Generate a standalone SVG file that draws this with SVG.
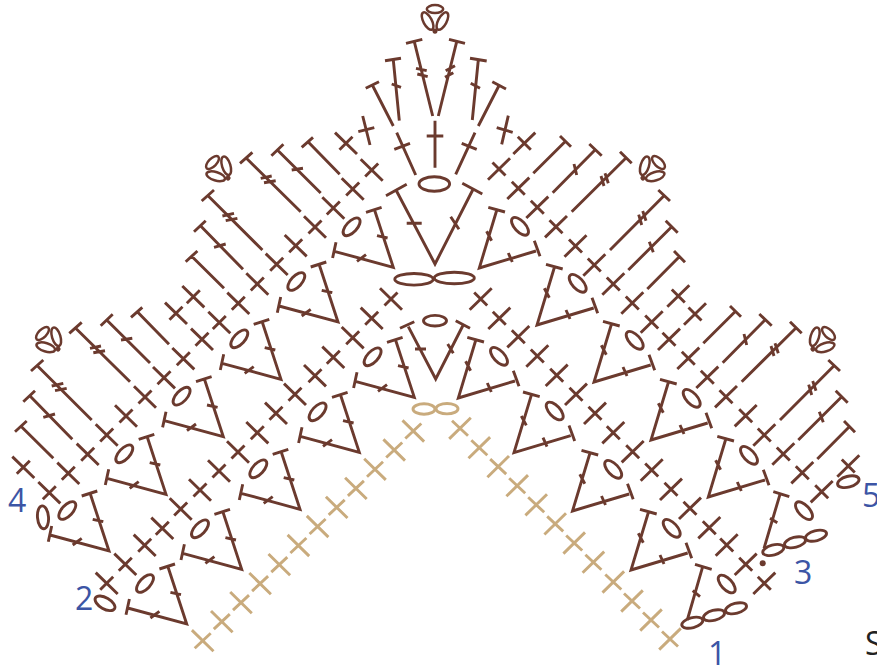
<svg xmlns="http://www.w3.org/2000/svg" width="877" height="666" viewBox="0 0 877 666">
<style>
.b{fill:none;stroke:#6b3a2e;stroke-width:2.9}
.t{fill:none;stroke:#c9ab7d;stroke-width:2.9}
.n{font-family:"Open Sans","Noto Sans",sans-serif;font-size:32px;fill:#3c55a5}
#flowers{stroke-width:2.5}
</style>
<defs>
<path id="xl" d="M-11-10.7L11 10.7M-6.5 6.5L6.5-6.5"/>
<path id="xr" d="M11-10.7L-11 10.7M6.5 6.5L-6.5-6.5"/>
<path id="txl" d="M-10.8-10.6L10.8 10.6M-8 7.5L8-7.5"/>
<path id="txr" d="M10.8-10.6L-10.8 10.6M8 7.5L-8-7.5"/>
<g id="vl"><path d="M-19-58L0 0L-59-16M-27.3-55L-11.7-60M-16.3-31.7L-5.7-29.3M-57.3-25L-60.7-9.3M-36.3-6L-27.3-12.7"/><ellipse cx="-41.7" cy="-40.5" rx="11" ry="5.4" transform="rotate(-47 -41.7 -40.5)"/></g>
<g id="vr"><path d="M17.5-58L0 0L56.7-17M9-60.7L25.7-56M7.3-36.7L12.3-27.3M55-27.3L60.7-11.7M29-15L33-6"/><ellipse cx="40.7" cy="-41.7" rx="11" ry="5.4" transform="rotate(47 40.7 -41.7)"/></g>
<g id="fl"><ellipse cx="0" cy="-8.2" rx="8.2" ry="4"/><ellipse cx="-7.4" cy="3.8" rx="9.6" ry="4.2" transform="rotate(62 -7.4 3.8)"/><ellipse cx="7.4" cy="3.8" rx="9.6" ry="4.2" transform="rotate(-62 7.4 3.8)"/><circle cx="0" cy="13.8" r="1.3"/></g>
<g id="lobeL"><path d="M20.7 426L53.3 458.3M15 431.7L26.7 421M30 396L72.3 439.3M23.3 401.7L35 390.7M43.3 417.3L55 414M37.3 365.7L91.7 420M31 371L43.3 360M51.7 386L63.3 383.3M55 390.7L66.7 388.3M75.7 328.3L130 381.7M69.3 333.3L81.7 322.3M90 348.3L101 346M93.3 352.7L105 350.7M106.7 320L150 363M100.7 325.7L112.7 314.3M121 340L132.3 338.3M137.3 311.7L169 344.3M131 317.3L142.3 307.3"/></g>
<g id="lobeR"><path d="M565 141.7L533.3 173.3M560 136L571 146.7M595 150L552.7 192.7M589.3 144L601.7 155.7M574 164L576.7 175M625.7 158.3L571.7 211.7M620 151.7L631.7 163.3M601 176L604 186M605 173.3L608.3 183.3M664 195.7L610 250M658.3 190L670 201M638.7 214.7L641.7 225M642.7 211L646 220.7M671.7 226.7L628.3 270M665.7 220.7L677.7 232.7M649.3 241.7L653.3 252.3M679.3 256.7L647.3 289M674 251L685 262.3"/></g>
</defs>
<g id="connectors">
<g id="tan-row" class="t">
<use href="#txl" x="202.7" y="640.7"/><use href="#txl" x="221.8" y="621.6"/><use href="#txl" x="241" y="602.6"/><use href="#txl" x="260.1" y="583.6"/><use href="#txl" x="279.3" y="564.6"/><use href="#txl" x="298.4" y="545.5"/><use href="#txl" x="317.6" y="526.5"/><use href="#txl" x="336.7" y="507.4"/><use href="#txl" x="355.9" y="488.4"/><use href="#txl" x="375" y="469.3"/><use href="#txl" x="394.2" y="450"/><use href="#txl" x="413.3" y="431"/>
<use href="#txr" x="460" y="428.3"/><use href="#txr" x="479.3" y="447.7"/><use href="#txr" x="498.2" y="466.6"/><use href="#txr" x="517.2" y="485.7"/><use href="#txr" x="536.2" y="504.8"/><use href="#txr" x="555.2" y="523.9"/><use href="#txr" x="574.2" y="543"/><use href="#txr" x="593.4" y="562.2"/><use href="#txr" x="613.3" y="582"/><use href="#txr" x="632" y="601"/><use href="#txr" x="651" y="620"/><use href="#txr" x="670" y="639"/>
<ellipse cx="424" cy="409" rx="11" ry="5.2"/><ellipse cx="447" cy="408.7" rx="11" ry="5.2"/>
</g>
<g id="cross-left" class="b">
<use href="#xl" x="106.7" y="583.3"/><use href="#xl" x="125.3" y="564.3"/><use href="#xl" x="144.7" y="545.3"/><use href="#xl" x="162.3" y="528.3"/><use href="#xl" x="180.7" y="509"/><use href="#xl" x="200" y="490"/><use href="#xl" x="219" y="471"/><use href="#xl" x="238" y="452"/><use href="#xl" x="257.3" y="432.7"/><use href="#xl" x="276" y="413.3"/><use href="#xl" x="295" y="394.3"/><use href="#xl" x="315" y="375.7"/><use href="#xl" x="333.3" y="357.3"/><use href="#xl" x="352.7" y="337.7"/><use href="#xl" x="371.7" y="318.3"/><use href="#xl" x="391" y="299"/>
<use href="#xl" x="49.3" y="492.7"/><use href="#xl" x="68.3" y="473.3"/><use href="#xl" x="87.7" y="454.3"/><use href="#xl" x="106.7" y="435"/><use href="#xl" x="126" y="416"/><use href="#xl" x="145" y="397"/><use href="#xl" x="164" y="377.7"/><use href="#xl" x="183.3" y="358.7"/><use href="#xl" x="202" y="339.3"/><use href="#xl" x="219.3" y="322.5"/><use href="#xl" x="238.3" y="303.3"/><use href="#xl" x="257.3" y="284"/><use href="#xl" x="276.7" y="264.3"/><use href="#xl" x="295.7" y="245.7"/><use href="#xl" x="315" y="227"/><use href="#xl" x="333.3" y="208"/><use href="#xl" x="352.7" y="189"/><use href="#xl" x="371.7" y="170"/>
<use href="#xl" x="23.3" y="467.3"/><use href="#xl" x="176" y="313.3"/><use href="#xl" x="193.3" y="296.7"/><use href="#xl" x="346" y="143.3"/>
</g>
<g id="cross-right" class="b">
<use href="#xr" x="480.7" y="299"/><use href="#xr" x="499.3" y="318.3"/><use href="#xr" x="518.3" y="336.7"/><use href="#xr" x="537.3" y="356"/><use href="#xr" x="556.7" y="375.3"/><use href="#xr" x="576" y="394.3"/><use href="#xr" x="595" y="413.3"/><use href="#xr" x="613.3" y="432.7"/><use href="#xr" x="632.7" y="451.7"/><use href="#xr" x="651.7" y="470"/><use href="#xr" x="671" y="489.3"/><use href="#xr" x="690" y="508.3"/><use href="#xr" x="709.3" y="527.7"/><use href="#xr" x="726.7" y="545"/><use href="#xr" x="745.7" y="564.3"/><use href="#xr" x="764.3" y="583.3"/>
<use href="#xr" x="499" y="169"/><use href="#xr" x="518.3" y="188.3"/><use href="#xr" x="537.3" y="207.3"/><use href="#xr" x="556" y="226.7"/><use href="#xr" x="575.5" y="246"/><use href="#xr" x="594.3" y="265"/><use href="#xr" x="613.3" y="284"/><use href="#xr" x="632.3" y="303"/><use href="#xr" x="651.7" y="322"/><use href="#xr" x="669" y="339.3"/><use href="#xr" x="688.3" y="358.3"/><use href="#xr" x="707.3" y="377.3"/><use href="#xr" x="726" y="396.7"/><use href="#xr" x="745.7" y="415.7"/><use href="#xr" x="764.3" y="435"/><use href="#xr" x="783.3" y="454"/><use href="#xr" x="802.3" y="472.7"/><use href="#xr" x="821.7" y="491.7"/>
<use href="#xr" x="524.3" y="143.3"/><use href="#xr" x="678.3" y="296"/><use href="#xr" x="695" y="314"/><use href="#xr" x="848.3" y="466"/>
</g>
<g id="long-stitches" class="b">
<use href="#lobeL"/><use href="#lobeL" transform="translate(170.7 -170)"/>
<use href="#lobeR"/><use href="#lobeR" transform="translate(170 170)"/>
</g>
</g>
<g id="fan-top" class="b">
<path d="M414.3 41.7L432.7 116M406 43.3L422.3 39.3M416 68.3L426.7 70.7M417.3 74L427.7 76.7"/>
<path d="M456.7 41.7L438.3 116M449 39.3L465 43.3M445.7 70.7L455 65.7M445 77.3L453.3 72.7"/>
<path d="M393.3 60L399.3 120.7M385 60.7L401 58.3M391.7 84L401 87.3"/>
<path d="M478.3 60L472.3 120M470 58.3L486.7 61M470.7 83.3L480 88.3"/>
<path d="M372.3 85L393.3 126M365.7 88.3L379 81.7"/>
<path d="M499.3 85L478.3 126M492.3 81.7L506 89"/>
<path d="M435 120.7V167.7M426.7 136H443.3"/>
<path d="M396.7 132.7L415.7 175M394.3 149.3L410 143.3"/>
<path d="M475 132.7L455.7 174.3M461.7 143.3L476.7 149.3"/>
<path d="M362.7 116L370 145M358.3 131.7L374.3 127.7"/>
<path d="M508.3 115.7L501.7 144.3M496.7 127.7L512.7 132.3"/>
</g>
<g id="center-top" class="b">
<path d="M396 190L435 264L472.7 190M386 195.7L406.7 184.3M406.7 223.3H421.7M462.3 183.3L482.3 194M450.7 216.7L459 229.3"/>
<ellipse cx="434.3" cy="184" rx="15.3" ry="7.2"/>
<ellipse cx="414" cy="279.3" rx="19.2" ry="5.8"/><ellipse cx="454.3" cy="278" rx="20" ry="5.8"/>
</g>
<g id="center-low" class="b">
<path d="M408.3 326.7L435.7 379L462.7 326M400 328.3L414.3 321.7M415 349H426M455.7 320.7L470 328.3M447.7 344L453.3 353.3"/>
<ellipse cx="435" cy="320.7" rx="11.5" ry="5.3"/>
</g>
<g id="left-blocks" class="b">
<use href="#vl" x="109" y="551"/><use href="#vl" x="166" y="494.3"/><use href="#vl" x="223.3" y="436.7"/><use href="#vl" x="281" y="379.3"/><use href="#vl" x="338" y="322"/><use href="#vl" x="393.3" y="267.3"/>
<use href="#vl" x="186.7" y="624"/><use href="#vl" x="241.7" y="569.3"/><use href="#vl" x="300" y="509.3"/><use href="#vl" x="359.3" y="452.3"/><use href="#vl" x="414.3" y="397.3"/>
<ellipse cx="43" cy="517.3" rx="11.5" ry="5.5" transform="rotate(85 43 517.3)"/>
<ellipse cx="105" cy="603.3" rx="11" ry="5.6" transform="rotate(30 105 603.3)"/>
</g>
<g id="right-blocks" class="b">
<use href="#vr" x="479.3" y="268"/><use href="#vr" x="537" y="325"/><use href="#vr" x="594" y="382"/><use href="#vr" x="651" y="440"/><use href="#vr" x="708.3" y="497"/>
<use href="#vr" x="458.3" y="398"/><use href="#vr" x="514" y="452.7"/><use href="#vr" x="572.5" y="511"/><use href="#vr" x="631" y="570"/>
<path d="M687.3 620L702.7 566.7M695 564.3L711.7 569.3M692.7 590.7L700 596.7"/>
<ellipse cx="726.7" cy="584" rx="11" ry="5.4" transform="rotate(47 726.7 584)"/>
<ellipse cx="692.3" cy="622.7" rx="10.8" ry="5" transform="rotate(-15 692.3 622.7)"/><ellipse cx="714" cy="615.3" rx="10.8" ry="5" transform="rotate(-15 714 615.3)"/><ellipse cx="736" cy="608.3" rx="10.8" ry="5" transform="rotate(-15 736 608.3)"/>
<path d="M764 548.3L780 494.3M773.3 491.7L789.3 496.7M770 518.3L777.3 522.7"/>
<ellipse cx="804" cy="510.7" rx="11" ry="5.4" transform="rotate(47 804 510.7)"/>
<ellipse cx="773.3" cy="550" rx="10.8" ry="5" transform="rotate(-15 773.3 550)"/><ellipse cx="795" cy="542.3" rx="10.8" ry="5" transform="rotate(-15 795 542.3)"/><ellipse cx="816" cy="535.7" rx="10.8" ry="5" transform="rotate(-15 816 535.7)"/>
<circle cx="762.7" cy="563.3" r="3" fill="#6b3a2e" stroke="none"/>
<ellipse cx="848.3" cy="481.7" rx="11" ry="5.4" transform="rotate(-15 848.3 481.7)"/>
</g>
<g id="flowers" class="b">
<use href="#fl" transform="translate(435 17.3)"/>
<use href="#fl" transform="translate(48.3 339.3) rotate(-45)"/>
<use href="#fl" transform="translate(218.3 168.3) rotate(-45)"/>
<use href="#fl" transform="translate(652.7 168.3) rotate(45)"/>
<use href="#fl" transform="translate(822.7 339.3) rotate(45)"/>
</g>
<g id="labels">
<text class="n" x="8" y="512">4</text>
<text class="n" x="75" y="610">2</text>
<text class="n" x="794" y="584">3</text>
<text class="n" x="708" y="665">1</text>
<text class="n" x="862" y="507">5</text>
<text x="865" y="655" style="font-family:'Open Sans','Noto Sans',sans-serif;font-size:32px;fill:#222">S</text>
</g>
</svg>
